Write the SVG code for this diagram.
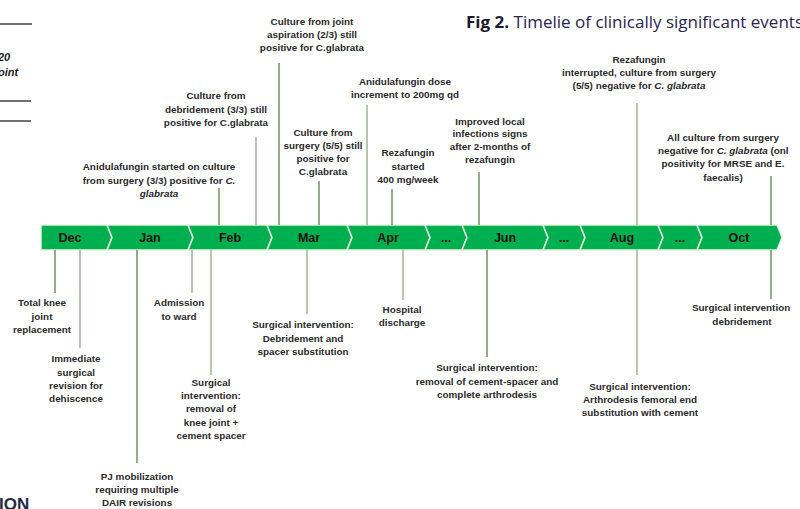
<svg xmlns="http://www.w3.org/2000/svg" width="800" height="509" viewBox="0 0 800 509">
<style>
.lbl{font-family:"Liberation Sans",Arial,sans-serif;font-size:9.9px;font-weight:bold;fill:#2a2a2a;text-anchor:middle}
.mon{font-family:"Liberation Sans",Arial,sans-serif;font-size:12.5px;font-weight:bold;fill:#111;text-anchor:middle}
.chev{fill:#00b050;stroke:#e6f2e0;stroke-width:1.5}
.ln{stroke:#6f9460;stroke-width:1.5;fill:none}
.ln2{stroke:#a9c4a0;stroke-width:1.8;fill:none}
.rule{stroke:#222;stroke-width:1.3}
.it{font-style:italic}
</style>
<rect width="800" height="509" fill="#fff"/>
<g id="page-fragments">
<line class="rule" x1="0" y1="24" x2="32" y2="24"/>
<line class="rule" x1="0" y1="101" x2="31" y2="101"/>
<line class="rule" x1="0" y1="121" x2="31" y2="121"/>
<text x="-2" y="61" font-family="Liberation Sans,Arial,sans-serif" font-size="11" font-weight="bold" font-style="italic" fill="#222">20</text>
<text x="-2" y="76" font-family="Liberation Sans,Arial,sans-serif" font-size="11" font-weight="bold" font-style="italic" fill="#222">oint</text>
<text x="-1" y="510" font-family="Liberation Sans,Arial,sans-serif" font-size="17" font-weight="bold" fill="#1f2a44">ION</text>
</g>
<g id="title">
<text x="466" y="28" font-family="'Open Sans','Liberation Sans',sans-serif" font-size="16" fill="#2b2450" textLength="337" lengthAdjust="spacingAndGlyphs"><tspan font-weight="bold" fill="#1a1a2a">Fig 2.</tspan> Timelie of clinically significant events</text>
</g>
<g id="timeline-bar">
<polygon class="chev" points="41,225 107,225 112,237.5 107,250 41,250"/>
<polygon class="chev" points="107,225 188,225 193,237.5 188,250 107,250 112,237.5"/>
<polygon class="chev" points="188,225 267,225 272,237.5 267,250 188,250 193,237.5"/>
<polygon class="chev" points="267,225 347,225 352,237.5 347,250 267,250 272,237.5"/>
<polygon class="chev" points="347,225 425,225 430,237.5 425,250 347,250 352,237.5"/>
<polygon class="chev" points="425,225 462,225 467,237.5 462,250 425,250 430,237.5"/>
<polygon class="chev" points="462,225 543,225 548,237.5 543,250 462,250 467,237.5"/>
<polygon class="chev" points="543,225 580,225 585,237.5 580,250 543,250 548,237.5"/>
<polygon class="chev" points="580,225 658,225 663,237.5 658,250 580,250 585,237.5"/>
<polygon class="chev" points="658,225 697,225 702,237.5 697,250 658,250 663,237.5"/>
<polygon class="chev" points="697,225 777,225 782,237.5 777,250 697,250 702,237.5"/>
<text class="mon" x="70" y="242">Dec</text>
<text class="mon" x="150" y="242">Jan</text>
<text class="mon" x="230" y="242">Feb</text>
<text class="mon" x="309" y="242">Mar</text>
<text class="mon" x="388" y="242">Apr</text>
<text class="mon" x="446" y="242">...</text>
<text class="mon" x="505" y="242">Jun</text>
<text class="mon" x="564" y="242">...</text>
<text class="mon" x="622" y="242">Aug</text>
<text class="mon" x="680" y="242">...</text>
<text class="mon" x="739" y="242">Oct</text>
</g>
<g id="connectors">
<line class="ln" x1="219" y1="188" x2="219" y2="225"/>
<line class="ln2" x1="256" y1="137" x2="256" y2="225"/>
<line class="ln" x1="279" y1="63" x2="279" y2="225"/>
<line class="ln" x1="319" y1="181" x2="319" y2="225"/>
<line class="ln2" x1="367" y1="105" x2="367" y2="225"/>
<line class="ln" x1="392" y1="189" x2="392" y2="225"/>
<line class="ln" x1="479" y1="172" x2="479" y2="225"/>
<line class="ln2" x1="637" y1="103" x2="637" y2="225"/>
<line class="ln" x1="771" y1="176" x2="771" y2="225"/>
<line class="ln" x1="55" y1="250" x2="55" y2="293"/>
<line class="ln2" x1="80" y1="250" x2="80" y2="348"/>
<line class="ln" x1="137" y1="250" x2="137" y2="463"/>
<line class="ln2" x1="192" y1="250" x2="192" y2="293"/>
<line class="ln2" x1="211" y1="250" x2="211" y2="375"/>
<line class="ln2" x1="307" y1="250" x2="307" y2="314"/>
<line class="ln2" x1="403" y1="250" x2="403" y2="300"/>
<line class="ln" x1="487" y1="250" x2="487" y2="357"/>
<line class="ln2" x1="637" y1="250" x2="637" y2="375"/>
<line class="ln" x1="771" y1="250" x2="771" y2="299"/>
</g>
<g id="ev-anidula-start">
<text class="lbl" x="159" y="170">Anidulafungin started on culture</text>
<text class="lbl" x="159" y="184">from surgery (3/3) positive for <tspan class="it">C.</tspan></text>
<text class="lbl" x="159" y="197"><tspan class="it">glabrata</tspan></text>
</g>
<g id="ev-culture-debridement">
<text class="lbl" x="216" y="99">Culture from</text>
<text class="lbl" x="216" y="113">debridement (3/3) still</text>
<text class="lbl" x="216" y="126">positive for C.glabrata</text>
</g>
<g id="ev-culture-aspiration">
<text class="lbl" x="312" y="25">Culture from joint</text>
<text class="lbl" x="312" y="38">aspiration (2/3) still</text>
<text class="lbl" x="312" y="51">positive for C.glabrata</text>
</g>
<g id="ev-culture-surgery">
<text class="lbl" x="323" y="136">Culture from</text>
<text class="lbl" x="323" y="149">surgery (5/5) still</text>
<text class="lbl" x="323" y="162">positive for</text>
<text class="lbl" x="323" y="175">C.glabrata</text>
</g>
<g id="ev-anidula-dose">
<text class="lbl" x="405" y="85">Anidulafungin dose</text>
<text class="lbl" x="405" y="98">increment to 200mg qd</text>
</g>
<g id="ev-rezafungin-start">
<text class="lbl" x="408" y="156">Rezafungin</text>
<text class="lbl" x="408" y="170">started</text>
<text class="lbl" x="408" y="183">400 mg/week</text>
</g>
<g id="ev-improved">
<text class="lbl" x="490" y="125">Improved local</text>
<text class="lbl" x="490" y="137">infections signs</text>
<text class="lbl" x="490" y="150">after 2-months of</text>
<text class="lbl" x="490" y="163">rezafungin</text>
</g>
<g id="ev-rezafungin-stop">
<text class="lbl" x="639" y="63">Rezafungin</text>
<text class="lbl" x="639" y="76">interrupted, culture from surgery</text>
<text class="lbl" x="639" y="89">(5/5) negative for <tspan class="it">C. glabrata</tspan></text>
</g>
<g id="ev-all-negative">
<text class="lbl" x="723" y="141">All culture from surgery</text>
<text class="lbl" x="658" y="154" style="text-anchor:start">negative for <tspan class="it">C. glabrata</tspan> (onl</text>
<text class="lbl" x="723" y="167">positivity for MRSE and E.</text>
<text class="lbl" x="723" y="181">faecalis)</text>
</g>
<g id="ev-tkr">
<text class="lbl" x="42" y="306">Total knee</text>
<text class="lbl" x="42" y="320">joint</text>
<text class="lbl" x="42" y="333">replacement</text>
</g>
<g id="ev-immediate">
<text class="lbl" x="76" y="362">Immediate</text>
<text class="lbl" x="76" y="376">surgical</text>
<text class="lbl" x="76" y="389">revision for</text>
<text class="lbl" x="76" y="402">dehiscence</text>
</g>
<g id="ev-pj">
<text class="lbl" x="137" y="480">PJ mobilization</text>
<text class="lbl" x="137" y="493">requiring multiple</text>
<text class="lbl" x="137" y="506">DAIR revisions</text>
</g>
<g id="ev-admission">
<text class="lbl" x="179" y="306">Admission</text>
<text class="lbl" x="179" y="320">to ward</text>
</g>
<g id="ev-removal-knee">
<text class="lbl" x="211" y="386">Surgical</text>
<text class="lbl" x="211" y="399">intervention:</text>
<text class="lbl" x="211" y="412">removal of</text>
<text class="lbl" x="211" y="426">knee joint +</text>
<text class="lbl" x="211" y="439">cement spacer</text>
</g>
<g id="ev-debridement-spacer">
<text class="lbl" x="303" y="328">Surgical intervention:</text>
<text class="lbl" x="303" y="342">Debridement and</text>
<text class="lbl" x="303" y="355">spacer substitution</text>
</g>
<g id="ev-discharge">
<text class="lbl" x="402" y="313">Hospital</text>
<text class="lbl" x="402" y="326">discharge</text>
</g>
<g id="ev-arthrodesis">
<text class="lbl" x="487" y="371">Surgical intervention:</text>
<text class="lbl" x="487" y="385">removal of cement-spacer and</text>
<text class="lbl" x="487" y="398">complete arthrodesis</text>
</g>
<g id="ev-femoral">
<text class="lbl" x="640" y="390">Surgical intervention:</text>
<text class="lbl" x="640" y="403">Arthrodesis femoral end</text>
<text class="lbl" x="640" y="416">substitution with cement</text>
</g>
<g id="ev-oct-debridement">
<text class="lbl" x="692" y="311" style="text-anchor:start">Surgical intervention</text>
<text class="lbl" x="742" y="325">debridement</text>
</g>
</svg>
